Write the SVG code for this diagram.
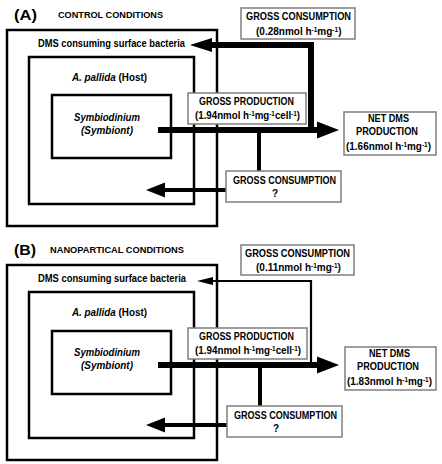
<svg xmlns="http://www.w3.org/2000/svg" width="442" height="464" viewBox="0 0 442 464">
<style>
.t{font-family:"Liberation Sans",Arial,sans-serif;font-weight:bold;fill:#000}
.s10{font-size:10.5px}
.s9{font-size:10px}
.i{font-style:italic}
.sup{font-size:6.5px}
.box{fill:none;stroke:#000;stroke-width:2.5}
.lbl{fill:#fff;stroke:#7f7f7f;stroke-width:1.5}
.c{fill:none;stroke:#000;stroke-linejoin:miter}
.ah{fill:#000;stroke:none}
</style>
<rect width="442" height="464" fill="#fff"/>

<!-- PANEL A -->
<g id="panelA">
  <text class="t" x="14" y="20" font-size="15" textLength="23" lengthAdjust="spacingAndGlyphs">(A)</text>
  <text class="t" x="58" y="18" font-size="9.5" textLength="105" lengthAdjust="spacingAndGlyphs">CONTROL CONDITIONS</text>
  <g id="A-bacteria">
    <rect class="box" x="7" y="30" width="210" height="196"/>
    <text class="t s10" x="38" y="47" textLength="147" lengthAdjust="spacingAndGlyphs">DMS consuming surface bacteria</text>
  </g>
  <g id="A-host">
    <rect class="box" x="29" y="57" width="165" height="147"/>
    <text class="t s10" x="72" y="81" textLength="75" lengthAdjust="spacingAndGlyphs"><tspan class="i">A. pallida</tspan> (Host)</text>
  </g>
  <g id="A-symbiont">
    <rect class="box" x="52" y="95" width="119" height="63"/>
    <text class="t s10 i" x="74" y="121" textLength="66" lengthAdjust="spacingAndGlyphs">Symbiodinium</text>
    <text class="t s10 i" x="81" y="134" textLength="52" lengthAdjust="spacingAndGlyphs">(Symbiont)</text>
  </g>
  <g id="A-connectors">
    <path class="c" stroke-width="6" d="M311,130 V45 H211"/>
    <polygon class="ah" points="190,45 212,38 212,52"/>
    <path class="c" stroke-width="6" d="M158,130 H318"/>
    <polygon class="ah" points="339,130 317,121.5 317,138.5"/>
    <path class="c" stroke-width="4" d="M259,130 V171"/>
    <path class="c" stroke-width="4" d="M226,190 H164"/>
    <polygon class="ah" points="146,190 165,182.5 165,197.5"/>
  </g>
  <g id="A-gross-consumption-top">
    <rect class="lbl" x="241" y="8" width="114" height="31"/>
    <text class="t s9" x="246" y="19.5" textLength="105" lengthAdjust="spacingAndGlyphs">GROSS CONSUMPTION</text>
    <text class="t s9" x="256" y="34.5">(0.28nmol h<tspan class="sup" dy="-2.5">-1</tspan><tspan dy="2.5">mg</tspan><tspan class="sup" dy="-2.5">-1</tspan><tspan dy="2.5">)</tspan></text>
  </g>
  <g id="A-gross-production">
    <rect class="lbl" x="188" y="93" width="118" height="31"/>
    <text class="t s9" x="199" y="104.5" textLength="95" lengthAdjust="spacingAndGlyphs">GROSS PRODUCTION</text>
    <text class="t s9" x="195" y="118.5" textLength="105" lengthAdjust="spacingAndGlyphs">(1.94nmol h<tspan class="sup" dy="-2.5">-1</tspan><tspan dy="2.5">mg</tspan><tspan class="sup" dy="-2.5">-1</tspan><tspan dy="2.5">cell</tspan><tspan class="sup" dy="-2.5">-1</tspan><tspan dy="2.5">)</tspan></text>
  </g>
  <g id="A-net-dms">
    <rect class="lbl" x="344" y="112" width="92" height="43"/>
    <text class="t s9" x="368" y="122" textLength="41" lengthAdjust="spacingAndGlyphs">NET DMS</text>
    <text class="t s9" x="356" y="135" textLength="62" lengthAdjust="spacingAndGlyphs">PRODUCTION</text>
    <text class="t s9" x="346" y="149.5" textLength="85" lengthAdjust="spacingAndGlyphs">(1.66nmol h<tspan class="sup" dy="-2.5">-1</tspan><tspan dy="2.5">mg</tspan><tspan class="sup" dy="-2.5">-1</tspan><tspan dy="2.5">)</tspan></text>
  </g>
  <g id="A-gross-consumption-q">
    <rect class="lbl" x="226" y="171" width="115" height="31"/>
    <text class="t s9" x="233" y="184" textLength="103" lengthAdjust="spacingAndGlyphs">GROSS CONSUMPTION</text>
    <text class="t s9" x="272" y="197">?</text>
  </g>
</g>

<!-- PANEL B -->
<g id="panelB" transform="translate(0,235)">
  <text class="t" x="14" y="20" font-size="15" textLength="22" lengthAdjust="spacingAndGlyphs">(B)</text>
  <text class="t" x="50" y="18" font-size="9.5" textLength="134" lengthAdjust="spacingAndGlyphs">NANOPARTICAL CONDITIONS</text>
  <g id="B-bacteria">
    <rect class="box" x="7" y="30" width="210" height="195"/>
    <text class="t s10" x="38" y="47" textLength="148" lengthAdjust="spacingAndGlyphs">DMS consuming surface bacteria</text>
  </g>
  <g id="B-host">
    <rect class="box" x="29" y="57" width="165" height="146"/>
    <text class="t s10" x="72" y="81" textLength="75" lengthAdjust="spacingAndGlyphs"><tspan class="i">A. pallida</tspan> (Host)</text>
  </g>
  <g id="B-symbiont">
    <rect class="box" x="52" y="96" width="119" height="63"/>
    <text class="t s10 i" x="74" y="121" textLength="66" lengthAdjust="spacingAndGlyphs">Symbiodinium</text>
    <text class="t s10 i" x="81" y="134" textLength="52" lengthAdjust="spacingAndGlyphs">(Symbiont)</text>
  </g>
  <g id="B-connectors">
    <path class="c" stroke-width="2.2" d="M311,130 V46 H211"/>
    <polygon class="ah" points="197,46 213,42 213,50"/>
    <path class="c" stroke-width="6" d="M158,130 H318"/>
    <polygon class="ah" points="339,130 317,121.5 317,138.5"/>
    <path class="c" stroke-width="4" d="M260,130 V171"/>
    <path class="c" stroke-width="4" d="M227,190 H164"/>
    <polygon class="ah" points="146,190 165,182.5 165,197.5"/>
  </g>
  <g id="B-gross-consumption-top">
    <rect class="lbl" x="241" y="10" width="113" height="30"/>
    <text class="t s9" x="245" y="22" textLength="105" lengthAdjust="spacingAndGlyphs">GROSS CONSUMPTION</text>
    <text class="t s9" x="256" y="35.5">(0.11nmol h<tspan class="sup" dy="-2.5">-1</tspan><tspan dy="2.5">mg</tspan><tspan class="sup" dy="-2.5">-1</tspan><tspan dy="2.5">)</tspan></text>
  </g>
  <g id="B-gross-production">
    <rect class="lbl" x="188" y="93" width="119" height="31"/>
    <text class="t s9" x="199" y="104.5" textLength="95" lengthAdjust="spacingAndGlyphs">GROSS PRODUCTION</text>
    <text class="t s9" x="195" y="118.5" textLength="106" lengthAdjust="spacingAndGlyphs">(1.94nmol h<tspan class="sup" dy="-2.5">-1</tspan><tspan dy="2.5">mg</tspan><tspan class="sup" dy="-2.5">-1</tspan><tspan dy="2.5">cell</tspan><tspan class="sup" dy="-2.5">-1</tspan><tspan dy="2.5">)</tspan></text>
  </g>
  <g id="B-net-dms">
    <rect class="lbl" x="345" y="112" width="91" height="43"/>
    <text class="t s9" x="369" y="122" textLength="41" lengthAdjust="spacingAndGlyphs">NET DMS</text>
    <text class="t s9" x="357" y="135" textLength="62" lengthAdjust="spacingAndGlyphs">PRODUCTION</text>
    <text class="t s9" x="347" y="149.5" textLength="85" lengthAdjust="spacingAndGlyphs">(1.83nmol h<tspan class="sup" dy="-2.5">-1</tspan><tspan dy="2.5">mg</tspan><tspan class="sup" dy="-2.5">-1</tspan><tspan dy="2.5">)</tspan></text>
  </g>
  <g id="B-gross-consumption-q">
    <rect class="lbl" x="227" y="171" width="115" height="31"/>
    <text class="t s9" x="234" y="184" textLength="103" lengthAdjust="spacingAndGlyphs">GROSS CONSUMPTION</text>
    <text class="t s9" x="273" y="197">?</text>
  </g>
</g>
</svg>
